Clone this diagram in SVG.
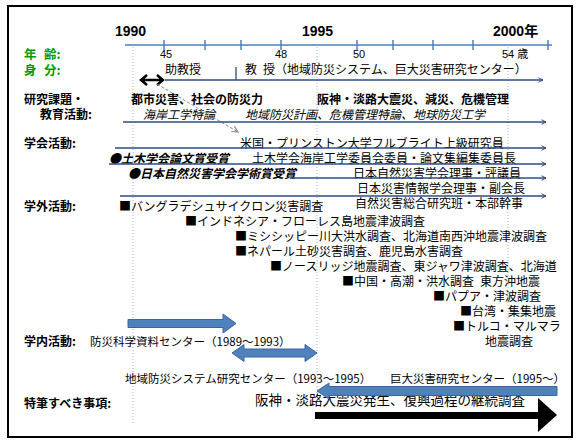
<svg xmlns="http://www.w3.org/2000/svg" width="579" height="445" viewBox="0 0 579 445">
<defs>
<style>
text{font-family:"Noto Sans CJK JP","Liberation Sans",sans-serif;font-size:12px;fill:#000}
.lbl{font-weight:bold;font-size:12px}
.grn{fill:#009a00;font-weight:bold;font-size:12.5px}
.yr{font-family:"Liberation Sans","Noto Sans CJK JP",sans-serif;font-weight:bold;font-size:14px}
.age{font-family:"Liberation Sans","Noto Sans CJK JP",sans-serif;font-size:11px}
.b{font-weight:bold}
.i{font-style:italic}
.s{font-size:11.5px}
.big{font-size:13.5px}
.ax{stroke:#4f81bd;stroke-width:1.5;fill:none}
.dot{stroke:#9bb7dc;stroke-width:1;stroke-dasharray:1 2;fill:none}
.tl{stroke:#2f4b8a;stroke-width:1.3;fill:none;marker-end:url(#oa)}
.blk{fill:#4f81bd;stroke:#3a65a0;stroke-width:1}
</style>
<marker id="oa" viewBox="0 0 8 8" refX="7" refY="4" markerWidth="6" markerHeight="6" markerUnits="userSpaceOnUse" orient="auto"><path d="M1,1 L7,4 L1,7" fill="none" stroke="#2f4b8a" stroke-width="1.3"/></marker>
<marker id="ga" viewBox="0 0 8 8" refX="7" refY="4" markerWidth="8" markerHeight="8" markerUnits="userSpaceOnUse" orient="auto"><path d="M1,1 L7,4 L1,7" fill="none" stroke="#888" stroke-width="1.2"/></marker>
</defs>
<rect x="8" y="6" width="564" height="431" fill="#fff" stroke="#000" stroke-width="2"/>

<g id="guides">
<line class="dot" x1="133" y1="47" x2="133" y2="425"/>
<line class="dot" x1="317" y1="47" x2="317" y2="395"/>
<line class="dot" x1="508" y1="47" x2="508" y2="350"/>
</g>

<g id="axis">
<line class="ax" x1="125" y1="45" x2="552" y2="45"/>
<path class="ax" d="M164,40V50M205,40V50M241,40V50M281,40V50M357,40V50M393,40V50M433,40V50M473,40V50M548,40V50"/>
<text class="yr" x="115" y="36">1990</text>
<text class="yr" x="302" y="36">1995</text>
<text class="yr" x="493" y="36">2000年</text>
<text class="age" x="160" y="58">45</text>
<text class="age" x="275" y="58">48</text>
<text class="age" x="353" y="58">50</text>
<text class="age" x="502" y="58">54 <tspan font-family="Noto Sans CJK JP">歳</tspan></text>
</g>

<g id="labels">
<text class="grn" x="24" y="59">年</text><text class="grn" x="44" y="59">齢:</text>
<text class="grn" x="24" y="75">身</text><text class="grn" x="44" y="75">分:</text>
<text class="lbl" x="24" y="104">研究課題・</text>
<text class="lbl" x="40" y="119">教育活動:</text>
<text class="lbl" x="24" y="148">学会活動:</text>
<text class="lbl" x="24" y="211">学外活動:</text>
<text class="lbl" x="24" y="346">学内活動:</text>
<text class="lbl" x="24" y="408">特筆すべき事項:</text>
</g>

<g id="position">
<text x="165" y="74">助教授</text>
<text x="245" y="74">教<tspan x="263">授（地域防災システム、巨大災害研究センター）</tspan></text>
</g>

<g id="research">
<text class="b" x="131" y="104">都市災害、社会の防災力</text>
<text class="b" x="317" y="104">阪神・淡路大震災、減災、危機管理</text>
<text class="i" x="143" y="119">海岸工学特論</text>
<text class="i" x="245" y="119">地域防災計画、危機管理特論、地球防災工学</text>
</g>

<g id="society">
<text x="240" y="147.5">米国・プリンストン大学フルブライト上級研究員</text>
<text class="b i" x="109" y="162.5">●土木学会論文賞受賞</text>
<text x="252" y="162.5">土木学会海岸工学委員会委員・論文集編集委員長</text>
<text class="b i" x="128" y="177.5">●日本自然災害学会学術賞受賞</text>
<text x="353" y="177.5">日本自然災害学会理事・評議員</text>
<text x="357" y="192.5">日本災害情報学会理事・副会長</text>
<text x="355" y="207.5">自然災害総合研究班・本部幹事</text>
</g>

<g id="external">
<text x="119" y="211">■バングラデシュサイクロン災害調査</text>
<text x="185" y="226">■インドネシア・フローレス島地震津波調査</text>
<text x="235" y="241">■ミシシッピー川大洪水調査、北海道南西沖地震津波調査</text>
<text x="235" y="256">■ネパール土砂災害調査、鹿児島水害調査</text>
<text x="270" y="271">■ノースリッジ地震調査、東ジャワ津波調査、北海道</text>
<text x="342" y="286">■中国・高潮・洪水調査</text>
<text x="480" y="286">東方沖地震</text>
<text x="433" y="301">■パプア・津波調査</text>
<text x="460" y="316">■台湾・集集地震</text>
<text x="453" y="331">■トルコ・マルマラ</text>
<text x="485" y="345.5">地震調査</text>
</g>

<g id="internal">
<text class="s" x="90" y="346">防災科学資料センター（1989～1993）</text>
<text class="s" x="125" y="383">地域防災システム研究センター（1993～1995）</text>
<text class="s" x="390" y="383">巨大災害研究センター（1995～）</text>
</g>

<g id="notable">
<text class="big" x="255" y="405">阪神・淡路大震災発生、復興過程の継続調査</text>
</g>

<g id="connectors">
<line class="tl" x1="165" y1="80" x2="543" y2="80"/>
<line x1="236" y1="67" x2="236" y2="80" stroke="#2f4b8a" stroke-width="1.3"/>
<path d="M143,80H161M147,75L141,80L147,85M157,75L163,80L157,85" fill="none" stroke="#000" stroke-width="2.5"/>
<line x1="157" y1="84" x2="238" y2="132" stroke="#888" stroke-width="1" stroke-dasharray="3 2" marker-end="url(#ga)"/>
<line class="tl" x1="123" y1="122" x2="546" y2="122"/>
<line class="tl" x1="115" y1="148" x2="546" y2="148"/>
<line class="tl" x1="109" y1="164" x2="546" y2="164"/>
<line class="tl" x1="290" y1="178" x2="546" y2="178"/>
<line class="tl" x1="120" y1="196" x2="546" y2="196"/>
<path class="blk" d="M128,319.5H223V314L236,323.5L223,333V327.5H128Z"/>
<path class="blk" d="M232,353L244,344.5V349H305V344.5L317,353L305,361.5V357H244V361.5Z"/>
<path class="blk" d="M317,391L329,383V386.5H557V395.5H329V399Z"/>
<path d="M315,412H538V398L557,415L538,432V419H315Z" fill="#000"/>
</g>
</svg>
